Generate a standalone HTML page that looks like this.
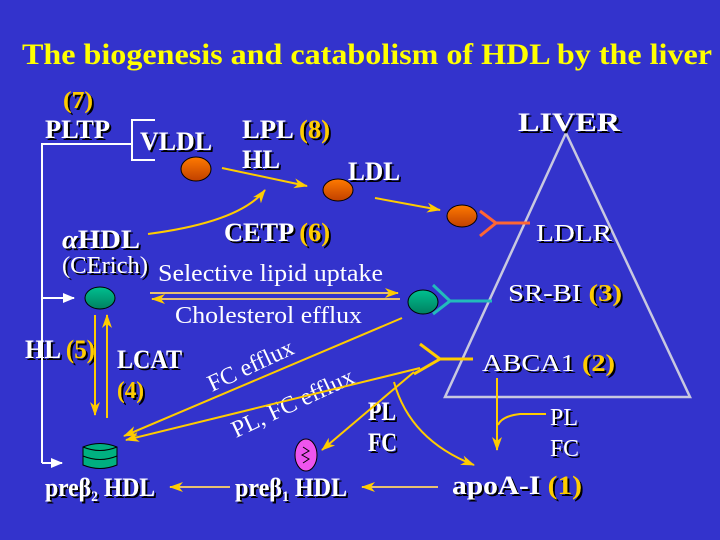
<!DOCTYPE html>
<html><head><style>
html,body{margin:0;padding:0;background:#3333cc;}
svg{display:block;}
text{font-family:"Liberation Serif",serif;}
.b{font-weight:bold;fill:#fff;font-size:26px;}
.y{fill:#ffcc00;font-weight:bold;}
.r{fill:#fff;font-size:24px;}
</style></head><body>
<svg width="720" height="540" viewBox="0 0 720 540" xmlns="http://www.w3.org/2000/svg">
<defs>
<filter id="sh" x="-5%" y="-5%" width="115%" height="130%"><feDropShadow dx="2" dy="2" stdDeviation="0" flood-color="#000"/></filter>
<marker id="a" markerWidth="14" markerHeight="10" refX="13" refY="5" orient="auto" markerUnits="userSpaceOnUse"><path d="M0,0 L14,5 L0,10 L4,5z" fill="#ffcc00"/></marker>
<marker id="w" markerWidth="12" markerHeight="10" refX="11" refY="5" orient="auto" markerUnits="userSpaceOnUse"><path d="M0,0 L12,5 L0,10z" fill="#fff"/></marker>
<linearGradient id="og" x1="0" y1="0" x2="0" y2="1"><stop offset="0" stop-color="#ff7a00"/><stop offset="1" stop-color="#c04000"/></linearGradient>
<linearGradient id="gg" x1="0" y1="0" x2="0" y2="1"><stop offset="0" stop-color="#00c090"/><stop offset="1" stop-color="#008060"/></linearGradient>
</defs>
<rect width="720" height="540" fill="#3333cc"/>
<text x="22" y="64" font-size="30" font-weight="bold" fill="#ffff00" textLength="690" lengthAdjust="spacingAndGlyphs">The biogenesis and catabolism of HDL by the liver</text>

<path d="M566,133 L445,397 L690,397 Z" fill="none" stroke="#c8c8e0" stroke-width="2.5"/>
<text x="518" y="131" class="b" font-size="28" textLength="102" lengthAdjust="spacingAndGlyphs" filter="url(#sh)">LIVER</text>

<g filter="url(#sh)">
<text x="63" y="108" class="y" font-size="24" textLength="30" lengthAdjust="spacingAndGlyphs">(7)</text>
<text x="45" y="138" class="b" textLength="65" lengthAdjust="spacingAndGlyphs">PLTP</text>
<text x="140" y="150" class="b" textLength="72" lengthAdjust="spacingAndGlyphs">VLDL</text>
<text x="242" y="138" class="b" textLength="88" lengthAdjust="spacingAndGlyphs">LPL <tspan class="y">(8)</tspan></text>
<text x="242" y="168" class="b" textLength="38" lengthAdjust="spacingAndGlyphs">HL</text>
<text x="348" y="180" class="b" textLength="52" lengthAdjust="spacingAndGlyphs">LDL</text>
<text x="62" y="248" class="b" font-size="24" textLength="78" lengthAdjust="spacingAndGlyphs"><tspan font-style="italic">α</tspan>HDL</text>
<text x="224" y="241" class="b" textLength="106" lengthAdjust="spacingAndGlyphs">CETP <tspan class="y">(6)</tspan></text>
<text x="62" y="273" class="r" textLength="86" lengthAdjust="spacingAndGlyphs">(CErich)</text>
<text x="25" y="358" class="b" font-size="24" textLength="70" lengthAdjust="spacingAndGlyphs">HL <tspan class="y">(5)</tspan></text>
<text x="117" y="368" class="b" font-size="24" textLength="65" lengthAdjust="spacingAndGlyphs">LCAT</text>
<text x="117" y="398" class="y" font-size="24" textLength="27" lengthAdjust="spacingAndGlyphs">(4)</text>
<text x="536" y="241" class="r" font-size="27" textLength="76" lengthAdjust="spacingAndGlyphs">LDLR</text>
<text x="508" y="301" class="r" font-size="27" textLength="114" lengthAdjust="spacingAndGlyphs">SR-BI <tspan class="y">(3)</tspan></text>
<text x="482" y="371" class="r" font-size="27" textLength="133" lengthAdjust="spacingAndGlyphs">ABCA1 <tspan class="y">(2)</tspan></text>
<text x="368" y="420" class="b" font-size="23" textLength="28" lengthAdjust="spacingAndGlyphs">PL</text>
<text x="368" y="451" class="b" font-size="23" textLength="29" lengthAdjust="spacingAndGlyphs">FC</text>
<text x="550" y="425" class="r" font-size="23" textLength="28" lengthAdjust="spacingAndGlyphs">PL</text>
<text x="550" y="456" class="r" font-size="23" textLength="29" lengthAdjust="spacingAndGlyphs">FC</text>
<text x="45" y="496" class="b" font-size="24" textLength="110" lengthAdjust="spacingAndGlyphs">preβ<tspan font-size="15" dy="5">2</tspan><tspan dy="-5"> HDL</tspan></text>
<text x="235" y="496" class="b" font-size="24" textLength="112" lengthAdjust="spacingAndGlyphs">preβ<tspan font-size="15" dy="5">1</tspan><tspan dy="-5"> HDL</tspan></text>
<text x="452" y="494" class="b" font-size="27" textLength="130" lengthAdjust="spacingAndGlyphs">apoA-I  <tspan class="y">(1)</tspan></text>
</g>
<text x="158" y="281" class="r" textLength="225" lengthAdjust="spacingAndGlyphs">Selective lipid uptake</text>
<text x="175" y="323" class="r" textLength="187" lengthAdjust="spacingAndGlyphs">Cholesterol efflux</text>
<text x="212" y="392" class="r" font-size="21" transform="rotate(-25 212 392)">FC efflux</text>
<text x="236" y="438" class="r" font-size="21" transform="rotate(-25 236 438)">PL, FC efflux</text>

<g stroke="#fff" stroke-width="2" fill="none">
<path d="M42,463 L42,144 L132,144"/>
<path d="M155,120 L132,120 L132,160 L155,160"/>
<path d="M42,463 L62,463" marker-end="url(#w)"/>
<path d="M42,298 L74,298" marker-end="url(#w)"/>
</g>

<g stroke="#ffcc00" stroke-width="2" fill="none">
<path d="M222,168 L307,186" marker-end="url(#a)"/>
<path d="M375,198 L440,210" marker-end="url(#a)"/>
<path d="M148,234 Q240,222 265,190" marker-end="url(#a)"/>
<path d="M150,293 L398,293" marker-end="url(#a)" stroke="#e8c070"/>
<path d="M400,299 L152,299" marker-end="url(#a)" stroke="#e8c070"/>
<path d="M95,315 L95,415" marker-end="url(#a)"/>
<path d="M107,418 L107,315" marker-end="url(#a)"/>
<path d="M402,318 L124,436" marker-end="url(#a)"/>
<path d="M420,368 L126,440" marker-end="url(#a)"/>
<path d="M414,372 L322,450" marker-end="url(#a)"/>
<path d="M394,382 Q410,440 474,465" marker-end="url(#a)"/>
<path d="M497,378 L497,450" marker-end="url(#a)"/>
<path d="M546,414 L520,414 Q502,416 498,425"/>
<path d="M438,487 L362,487" marker-end="url(#a)" stroke="#e8c070"/>
<path d="M230,487 L170,487" marker-end="url(#a)" stroke="#e8c070"/>
<path d="M420,344 L440,359 L414,374 M440,359 L473,359" stroke-width="3"/>
</g>
<path d="M480,211 L496,223 L480,236 M496,223 L530,223" stroke="#ff6633" stroke-width="3" fill="none"/>
<path d="M433,285 L450,301 L433,314 M450,301 L492,301" stroke="#22bbbb" stroke-width="3" fill="none"/>

<g stroke="#000" stroke-width="1">
<ellipse cx="196" cy="169" rx="15" ry="12" fill="url(#og)"/>
<ellipse cx="338" cy="190" rx="15" ry="11" fill="url(#og)"/>
<ellipse cx="462" cy="216" rx="15" ry="11" fill="url(#og)"/>
<ellipse cx="100" cy="298" rx="15" ry="11" fill="url(#gg)"/>
<ellipse cx="423" cy="302" rx="15" ry="12" fill="url(#gg)"/>
<ellipse cx="306" cy="455" rx="11" ry="16" fill="#ee55ee"/>
<path d="M83,447 Q100,440 117,447 L117,465 Q100,472 83,465 Z" fill="#00b080"/>
<path d="M83,447 Q100,454 117,447 M83,456 Q100,463 117,456" fill="none"/>
</g>
<path d="M303,447 L309,451 L302,455 L309,459 L303,463" stroke="#000" fill="none"/>
</svg>
</body></html>
